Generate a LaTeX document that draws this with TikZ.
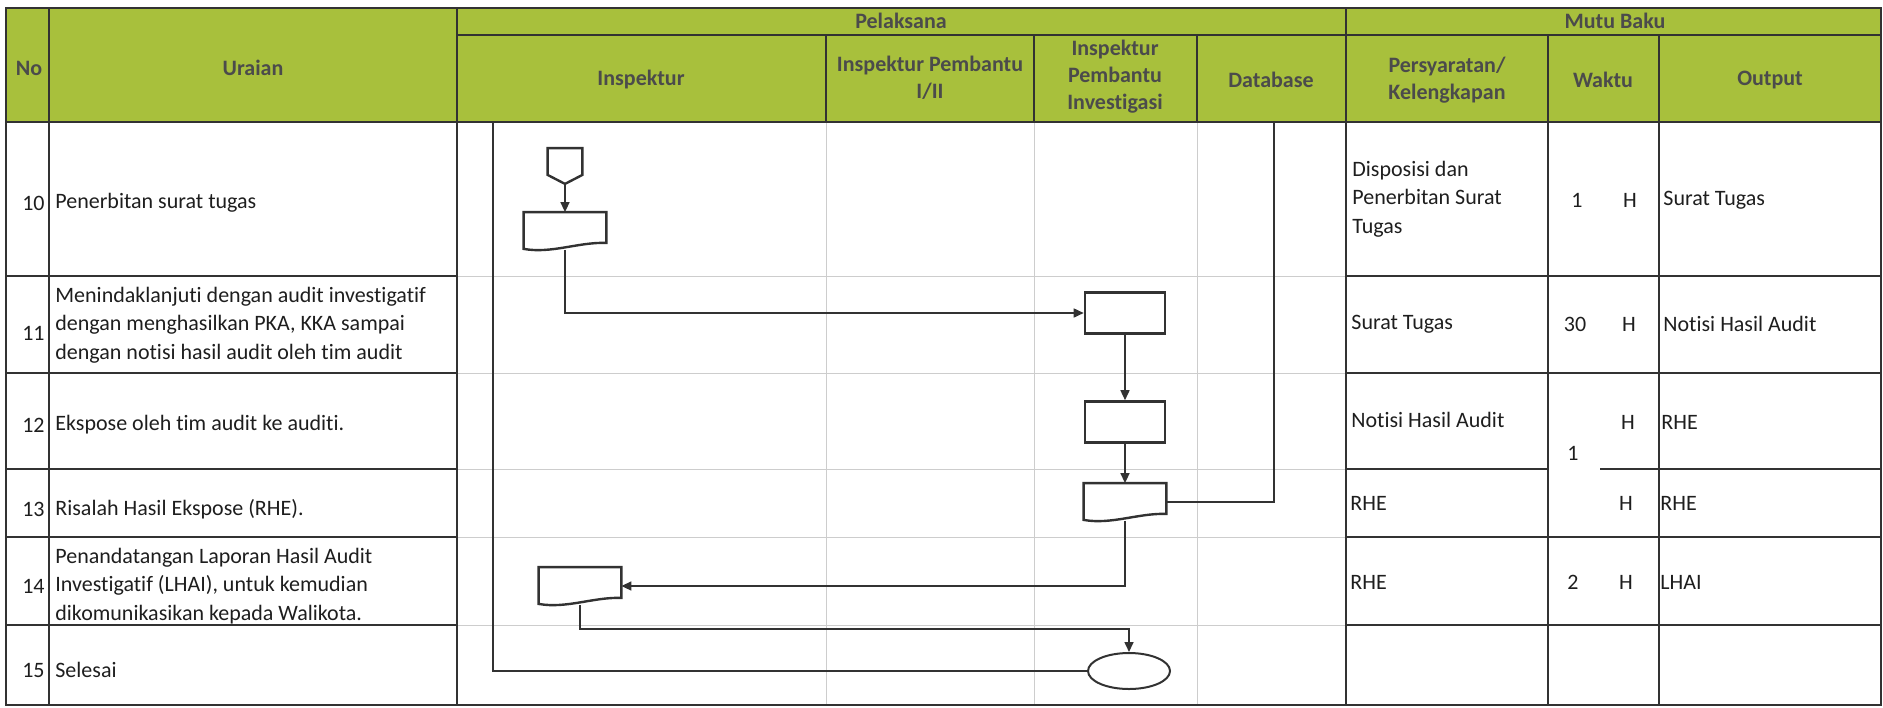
\documentclass[tikz,border=0pt]{standalone}
\usepackage{fontspec}
\setmainfont{Carlito}[Ligatures=NoCommon]
\usetikzlibrary{arrows.meta,shapes.geometric}

\definecolor{hijau}{RGB}{168,192,60}
\definecolor{garis}{RGB}{50,50,50}
\definecolor{kisi}{RGB}{205,205,205}
\definecolor{teks}{RGB}{30,30,30}
\definecolor{teksjudul}{RGB}{75,75,75}

\tikzset{
  judul/.style={font=\fontsize{11}{13.5}\selectfont\bfseries, text=teksjudul, align=center, inner sep=0pt},
  isi/.style={anchor=west, inner sep=0pt, align=left, text=teks},
  nomor/.style={anchor=east, inner sep=0pt, text=teks},
  waktu/.style={inner sep=0pt, text=teks},
  tabel/.style={draw=garis, line width=0.9pt},
  proses/.style={draw=garis, line width=1.3pt, minimum width=40pt, minimum height=20.5pt, inner sep=0pt},
  dokumen/.style={minimum width=41pt, minimum height=18.5pt, inner sep=0pt},
  akhir/.style={draw=garis, ellipse, line width=1pt, minimum width=41pt, minimum height=18pt, inner sep=0pt},
  alur/.style={draw=garis, line width=0.8pt, -{Triangle[length=5pt,width=4.5pt]}},
  sambung/.style={draw=garis, line width=0.8pt},
}

% garis tepi dokumen (bawah bergelombang)
\newcommand{\dokgaris}[1]{%
  \draw[garis, line width=1.2pt] ([yshift=0.5pt]#1.south west) -- (#1.north west) -- (#1.north east)
    -- ([yshift=3.5pt]#1.south east)
    .. controls ([xshift=-14pt,yshift=4pt]#1.south east) and ([xshift=14pt,yshift=-2pt]#1.south west)
    .. ([yshift=0.5pt]#1.south west) -- cycle;}

\begin{document}
\begin{tikzpicture}[x=0.5pt, y=-0.5pt, font=\fontsize{11}{14.2}\selectfont]
\useasboundingbox (0,0) rectangle (1883,707);

%% kepala tabel
\fill[hijau] (6,8) rectangle (1881,122);

%% kisi tipis di kolom pelaksana
\foreach \x in {826,1034,1197} \draw[kisi] (\x,122) -- (\x,705);
\foreach \y in {276,373,469,537,625} \draw[kisi] (457,\y) -- (1346,\y);

%% garis tabel
\draw[tabel] (6,8) rectangle (1881,705);
\draw[tabel] (457,35) -- (1881,35);
\draw[tabel] (6,122) -- (1881,122);
\foreach \x in {49,457,1346} \draw[tabel] (\x,8) -- (\x,705);
\foreach \x in {1548,1659} \draw[tabel] (\x,35) -- (\x,705);
\foreach \x in {826,1034,1197} \draw[tabel] (\x,35) -- (\x,122);
\foreach \y in {276,373,469,537,625} \draw[tabel] (6,\y) -- (457,\y);
\foreach \y in {276,373,537,625} \draw[tabel] (1346,\y) -- (1881,\y);
\draw[tabel] (1346,469) -- (1548,469);
\draw[tabel] (1600,469) -- (1881,469);

%% judul kolom
\node[judul] (hno) at (29,68) {No};
\node[judul] (huraian) at (253,68) {Uraian};
\node[judul] (hpelaksana) at (901,21) {Pelaksana};
\node[judul] (hmutu) at (1615,21) {Mutu Baku};
\node[judul] (hinspektur) at (641,80) {Inspektur};
\node[judul] (hpembantu) at (930,78) {Inspektur Pembantu\\I/II};
\node[judul] (hinvestigasi) at (1115,77) {Inspektur\\Pembantu\\Investigasi};
\node[judul] (hdatabase) at (1271,80) {Database};
\node[judul] (hsyarat) at (1447,80) {Persyaratan/\\Kelengkapan};
\node[judul] (hwaktu) at (1603,80) {Waktu};
\node[judul] (houtput) at (1770,80) {Output};

%% nomor dan uraian
\node[nomor] (n10) at (45,203) {10};
\node[nomor] (n11) at (45,333) {11};
\node[nomor] (n12) at (45,425) {12};
\node[nomor] (n13) at (45,509) {13};
\node[nomor] (n14) at (45,586) {14};
\node[nomor] (n15) at (45,670) {15};
\node[isi] (u10) at (55,203) {Penerbitan surat tugas};
\node[isi] (u11) at (55,325) {Menindaklanjuti dengan audit investigatif\\dengan menghasilkan PKA, KKA sampai\\dengan notisi hasil audit oleh tim audit};
\node[isi] (u12) at (55,425) {Ekspose oleh tim audit ke auditi.};
\node[isi] (u13) at (55,509) {Risalah Hasil Ekspose (RHE).};
\node[isi] (u14) at (55,586) {Penandatangan Laporan Hasil Audit\\Investigatif (LHAI), untuk kemudian\\dikomunikasikan kepada Walikota.};
\node[isi] (u15) at (55,670) {Selesai};

%% mutu baku
\node[isi] (p10) at (1352,199) {Disposisi dan\\Penerbitan Surat\\Tugas};
\node[isi] (p11) at (1351,324) {Surat Tugas};
\node[isi] (p12) at (1351,420) {Notisi Hasil Audit};
\node[isi] (p13) at (1350,503) {RHE};
\node[isi] (p14) at (1350,582) {RHE};
\node[waktu] (w10) at (1577,200) {1};
\node[waktu] (h10) at (1630,200) {H};
\node[waktu] (w11) at (1575,324) {30};
\node[waktu] (h11) at (1629,324) {H};
\node[waktu] (h12) at (1628,422) {H};
\node[waktu] (w12) at (1573,453) {1};
\node[waktu] (h13) at (1626,503) {H};
\node[waktu] (w14) at (1573,582) {2};
\node[waktu] (h14) at (1626,582) {H};
\node[isi] (o10) at (1663,200) {Surat Tugas};
\node[isi] (o11) at (1663,324) {Notisi Hasil Audit};
\node[isi] (o12) at (1661,422) {RHE};
\node[isi] (o13) at (1660,503) {RHE};
\node[isi] (o14) at (1660,582) {LHAI};

%% simbol alur
\node[minimum width=17pt, minimum height=17.5pt, inner sep=0pt] (mulai) at (565,166) {};
\draw[garis, line width=1.2pt] (mulai.north west) -- (mulai.north east) -- ([yshift=4.5pt]mulai.south east)
  -- (mulai.south) -- ([yshift=4.5pt]mulai.south west) -- cycle;
\node[dokumen] (d10) at (565,231) {};
\dokgaris{d10}
\node[proses] (b11) at (1125,313) {};
\node[proses] (b12) at (1125,422) {};
\node[dokumen] (d13) at (1125,502) {};
\dokgaris{d13}
\node[dokumen] (d14) at (580,586) {};
\dokgaris{d14}
\node[akhir] (selesai) at (1129,671) {};

\coordinate (dbatas) at (1274,122);
\coordinate (lajur) at (493,122);

%% garis alur
\draw[alur] (mulai.south) -- (d10.north);
\draw[alur] (d10.south) |- (b11.west);
\draw[alur] (b11.south) -- (b12.north);
\draw[alur] (b12.south) -- (d13.north);
\draw[sambung] (dbatas) |- (d13.east);
\draw[alur] (d13.south) |- (d14.east);
\draw[alur] (d14.south) -- ++(0,24) -| (selesai.north);
\draw[sambung] (selesai.west) -| (lajur);
\end{tikzpicture}
\end{document}
